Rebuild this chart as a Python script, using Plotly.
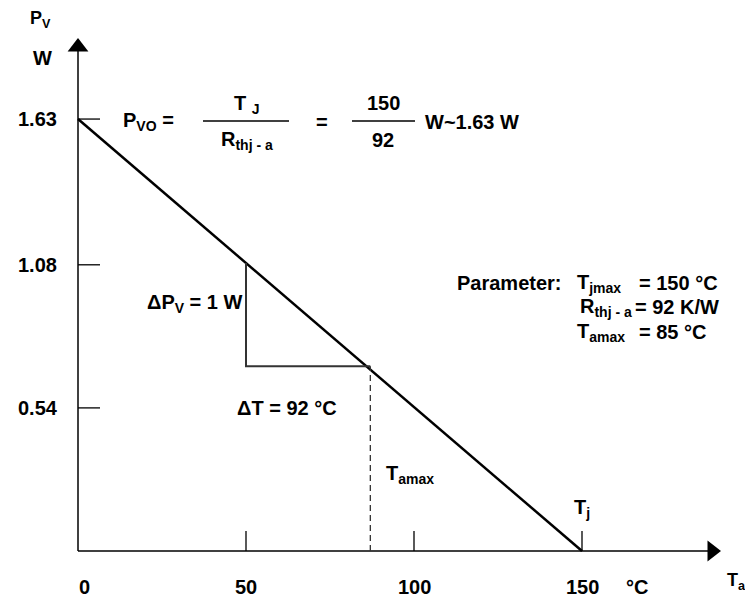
import plotly.graph_objects as go

# data
ta_line = [0, 150]
pv_line = [1.63, 0]
x_ticks = [0, 50, 100, 150]
x_tick_labels = ["0", "50", "100", "150"]
y_ticks = [0.54, 1.08, 1.63]
y_tick_labels = ["0.54", "1.08", "1.63"]
tri_x = [50, 50, 87]
tri_y = [1.087, 0.697, 0.697]
tamax_x = [87, 87]
tamax_y = [0, 0.697]

# the page body keeps an 8px margin, so the figure is 8px smaller
OFF = 8
W, H = 753 - OFF, 605 - OFF
X0, Y0 = 78, 551          # pixel of origin on the page
SX, SY = 3.36, 265.0      # pixels per unit

FONT = "Liberation Sans, Arial, sans-serif"
FS = 20


def px(x):
    return (x - X0) / SX


def py(y):
    return (Y0 - y) / SY


fig = go.Figure()

# axes with arrow heads
fig.add_trace(go.Scatter(x=[0, 0], y=[0, py(50)], mode="lines",
                         line=dict(color="black", width=1.5), hoverinfo="skip"))
fig.add_trace(go.Scatter(x=[0, px(712)], y=[0, 0], mode="lines",
                         line=dict(color="black", width=1.5), hoverinfo="skip"))
fig.add_trace(go.Scatter(x=[0], y=[py(47)], mode="markers",
                         marker=dict(symbol="triangle-up", size=18, color="black"),
                         hoverinfo="skip"))
fig.add_trace(go.Scatter(x=[px(712)], y=[0], mode="markers",
                         marker=dict(symbol="triangle-right", size=18, color="black"),
                         hoverinfo="skip"))

# derating line
fig.add_trace(go.Scatter(x=ta_line, y=pv_line, mode="lines",
                         line=dict(color="black", width=2.5), hoverinfo="skip"))
# slope triangle
fig.add_trace(go.Scatter(x=tri_x, y=tri_y, mode="lines",
                         line=dict(color="#333333", width=2), hoverinfo="skip"))
# Tamax dashed
fig.add_trace(go.Scatter(x=tamax_x, y=tamax_y, mode="lines",
                         line=dict(color="#333333", width=1.3, dash="6px,4px"),
                         hoverinfo="skip"))

# tick marks
for xv in x_ticks[1:]:
    fig.add_shape(type="line", xref="x", yref="y", ysizemode="pixel", yanchor=0,
                  x0=xv, x1=xv, y0=0, y1=20, line=dict(color="black", width=1.3))
for yv in y_ticks:
    fig.add_shape(type="line", xref="x", yref="y", xsizemode="pixel", xanchor=0,
                  x0=0, x1=22, y0=yv, y1=yv, line=dict(color="black", width=1.3))

# fraction bars
fig.add_shape(type="line", xref="x", yref="y", x0=px(203), x1=px(289),
              y0=py(121), y1=py(121), line=dict(color="black", width=1.3))
fig.add_shape(type="line", xref="x", yref="y", x0=px(352), x1=px(415),
              y0=py(121), y1=py(121), line=dict(color="black", width=1.3))


def label(text, x, y, anchor="center", size=FS, xref="paper", yref="paper"):
    fig.add_annotation(
        text="<b>" + text + "</b>",
        x=(x - OFF) / W if xref == "paper" else x,
        y=1 - (y - OFF) / H if yref == "paper" else y,
        xref=xref, yref=yref, xanchor=anchor, yanchor="middle",
        showarrow=False, font=dict(family=FONT, size=size, color="black"),
    )


for yv, t in zip(y_ticks, y_tick_labels):
    label(t, 38, yv, yref="y")
for xv, t in zip(x_ticks, x_tick_labels):
    label(t, xv + (2 if xv == 0 else 0), 587, xref="x")

label("P<sub>V</sub>", 40, 20, size=18)
label("W", 42, 58)
label("°C", 637, 587)
label("T<sub>a</sub>", 748, 581, anchor="right", size=18)

label("P<sub>VO</sub> =", 148, 122)
label("T <sub>J</sub>", 247, 104)
label("R<sub>thj - a</sub>", 247, 140)
label("=", 322, 122)
label("150", 383, 103)
label("92", 383, 140)
label("W~1.63 W", 472, 122)

label("ΔP<sub>V</sub> = 1 W", 195, 303)
label("ΔT = 92 °C", 287, 408)
label("T<sub>amax</sub>", 410, 474)
label("T<sub>j</sub>", 582, 508)

label("Parameter:", 455, 283, anchor="left")
label("T<sub>jmax</sub>", 575, 283, anchor="left")
label("= 150 °C", 637, 283, anchor="left")
label("R<sub>thj - a</sub>", 578, 307, anchor="left")
label("= 92 K/W", 633, 307, anchor="left")
label("T<sub>amax</sub>", 575, 332, anchor="left")
label("= 85 °C", 637, 332, anchor="left")

fig.update_layout(
    width=W, height=H,
    margin=dict(l=0, r=0, t=0, b=0),
    paper_bgcolor="white", plot_bgcolor="white",
    showlegend=False,
    xaxis=dict(range=[px(OFF), px(753)], visible=False, fixedrange=True),
    yaxis=dict(range=[py(605), py(OFF)], visible=False, fixedrange=True),
)

fig.write_html("out.html")
